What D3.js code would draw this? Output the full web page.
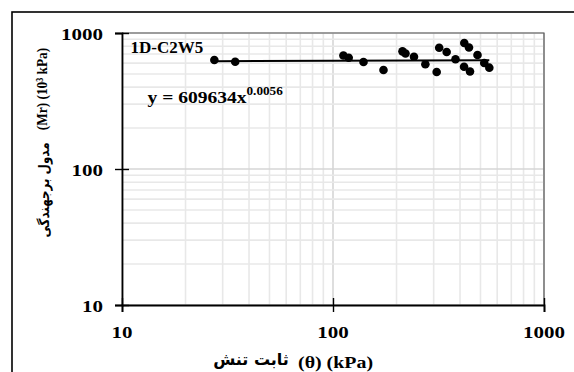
<!DOCTYPE html>
<html>
<head>
<meta charset="utf-8">
<script src="https://cdn.jsdelivr.net/npm/d3@7"></script>
<style>
  body { margin: 0; background: #fff; }
  text { font-family: "Liberation Serif", "Times New Roman", serif; font-weight: bold; fill: #000; }
  .fa { font-family: "DejaVu Sans", sans-serif; }
</style>
</head>
<body>
<div id="chart"></div>
<script>
// bulk stress theta (kPa) and resilient modulus Mr (10^3 kPa)
var thetaVals = [27.4, 34.4, 112, 118.7, 139.5, 173.5, 213.5, 220.6, 242, 274, 310,
  318.6, 345.7, 380.7, 419, 441, 484, 418, 446, 521, 550.6];
var mrVals = [633, 615, 683, 658, 612, 534, 733, 707, 669, 589, 517,
  779, 725, 642, 844, 782, 689, 565, 521, 602, 556];

// power fit shown on the chart
var fitCoef = 609.634;
var fitExp = 0.0056;

var axisTicks = [10, 100, 1000];
var sampleName = '1D-C2W5';
var eqMain = 'y = 609634x';
var eqSup = '0.0056';
var xTitleFa = 'ثابت تنش';
var xTitleEn = '(θ) (kPa)';
var yTitleFa = 'مدول برجهندگی';
var yTitleEn = '(Mr) (10³ kPa)';

var W = 574, H = 372;
var plotL = 122, plotR = 544, plotT = 33, plotB = 305;

var svg = d3.select('#chart').append('svg')
  .attr('width', W)
  .attr('height', H);

var x = d3.scaleLog().domain([10, 1000]).range([plotL, plotR]);
var y = d3.scaleLog().domain([10, 1000]).range([plotB, plotT]);

// outer frame (cut by the page edges like the original)
svg.append('rect')
  .attr('x', 12).attr('y', 12)
  .attr('width', 580).attr('height', 380)
  .style('fill', 'none')
  .style('stroke', '#000')
  .style('stroke-width', 1.6);

/* grid */
var grid = svg.append('g');
x.ticks().forEach(function (t) {
  var major = axisTicks.indexOf(t) >= 0;
  grid.append('line')
    .attr('x1', x(t)).attr('x2', x(t))
    .attr('y1', plotT).attr('y2', plotB)
    .style('stroke', major ? '#d6d6d6' : '#e8e8e8')
    .style('stroke-width', 1.6);
});
y.ticks().forEach(function (t) {
  var major = axisTicks.indexOf(t) >= 0;
  grid.append('line')
    .attr('x1', plotL).attr('x2', plotR)
    .attr('y1', y(t)).attr('y2', y(t))
    .style('stroke', major ? '#d6d6d6' : '#e8e8e8')
    .style('stroke-width', 1.6);
});

// top and right border of the plot area
svg.append('path')
  .attr('d', 'M' + plotL + ',' + plotT + 'H' + plotR + 'V' + plotB)
  .style('fill', 'none')
  .style('stroke', '#595959')
  .style('stroke-width', 1.2);

/* axes */
var xAxis = d3.axisBottom(x).tickValues(axisTicks).tickSize(7).tickFormat('');
var yAxis = d3.axisLeft(y).tickValues(axisTicks).tickSize(7).tickFormat('');

var gx = svg.append('g').attr('transform', 'translate(0,' + plotB + ')').call(xAxis);
var gy = svg.append('g').attr('transform', 'translate(' + plotL + ',0)').call(yAxis);
[gx, gy].forEach(function (g) {
  g.select('.domain').style('stroke', '#000').style('stroke-width', 1.8);
  g.selectAll('.tick line').style('stroke', '#000').style('stroke-width', 1.4);
});
// ticks cross the axis line
gx.selectAll('.tick line').attr('y1', -7);
gy.selectAll('.tick line').attr('x1', 7);

// stretched text helper (original glyphs are wider than Times)
var label = function label(px, py, str, size, sx, anchor) {
  return svg.append('text')
    .attr('transform', 'translate(' + px + ',' + py + ') scale(' + sx + ',1)')
    .attr('text-anchor', anchor)
    .attr('font-size', size)
    .text(str);
};

axisTicks.forEach(function (t) {
  label(x(t), plotB + 33, t, 17.5, 1.2, 'middle');
  label(plotL - 19, y(t) + 6.5, t, 17.5, 1.2, 'end');
});

/* trend line */
var thetaExt = d3.extent(thetaVals);
var fitPts = thetaExt.map(function (t) { return [t, fitCoef * Math.pow(t, fitExp)]; });
svg.append('path')
  .datum(fitPts)
  .attr('d', d3.line().x(function (d) { return x(d[0]); }).y(function (d) { return y(d[1]); }))
  .style('fill', 'none')
  .style('stroke', '#000')
  .style('stroke-width', 2);

/* points */
svg.append('g').selectAll('circle')
  .data(thetaVals)
  .enter().append('circle')
  .attr('cx', function (d) { return x(d); })
  .attr('cy', function (d, i) { return y(mrVals[i]); })
  .attr('r', 4.3)
  .style('fill', '#000');

/* annotations */
label(130.5, 53, sampleName, 17, 1.0, 'start');

var eq = svg.append('text')
  .attr('transform', 'translate(147.5,102.5) scale(1.15,1)')
  .attr('font-size', 17);
eq.append('tspan').text(eqMain);
eq.append('tspan').attr('font-size', 11.5).attr('dy', -8).text(eqSup);

/* axis titles */
label(335.5, 368, xTitleEn, 17, 1.17, 'middle');
svg.append('text')
  .attr('class', 'fa')
  .attr('x', 251).attr('y', 365)
  .attr('text-anchor', 'middle')
  .attr('font-size', 16)
  .text(xTitleFa);

svg.append('text')
  .attr('transform', 'translate(46.5,89) rotate(-90) scale(0.86,1)')
  .attr('text-anchor', 'middle')
  .attr('font-size', 15.5)
  .text(yTitleEn);
svg.append('text')
  .attr('class', 'fa')
  .attr('transform', 'translate(49,190) rotate(-90) scale(0.85,1)')
  .attr('text-anchor', 'middle')
  .attr('font-size', 14)
  .text(yTitleFa);
</script>
</body>
</html>
